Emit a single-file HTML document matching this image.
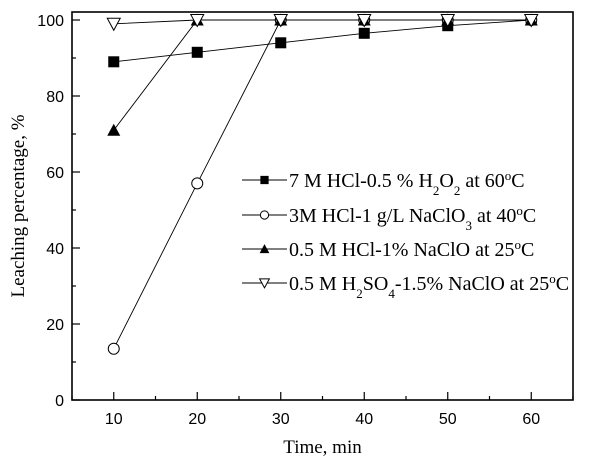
<!DOCTYPE html>
<html><head><meta charset="utf-8"><style>
body{margin:0;background:#fff;}
svg text{font-family:"Liberation Sans",Arial,sans-serif;}
.serif{font-family:"Liberation Serif","Times New Roman",serif;}
</style></head><body>
<svg id="chart" width="614" height="464" viewBox="0 0 614 464" xmlns="http://www.w3.org/2000/svg">
<g id="axes"></g><g id="series"></g><g id="legend"></g>
</svg>
<script>
const times=[10,20,30,40,50,60];
const sHCl7=[89,91.5,94,96.5,98.5,100];
const sHCl3=[13.5,57,100,100,100,100];
const sHCl05=[71,100,100,100,100,100];
const sH2SO4=[99,100,100,100,100,100];
const xTicks=[10,20,30,40,50,60];
const yTicks=[0,20,40,60,80,100];
const NS="http://www.w3.org/2000/svg";
const L=72,R=573,T=12,B=400;
const X=v=>L+(v-5)/60*(R-L);
const Y=v=>B-v/100*380;
function mk(tag,attrs,parent){const e=document.createElementNS(NS,tag);for(const k in attrs)e.setAttribute(k,attrs[k]);parent.appendChild(e);return e;}
const ax=document.getElementById('axes');
const frame=mk('rect',{x:L,y:T,width:R-L,height:B-T,fill:'none',stroke:'#000','stroke-width':1.6},ax);


for(let v=5;v<=65;v+=5){
  const big=v%10===0;
  const t=mk('line',{x1:X(v),x2:X(v),y1:B,y2:B-(big?8:4),stroke:'#000','stroke-width':1.2},ax);
  
  
}
xTicks.forEach(v=>{
  const t=mk('text',{x:X(v),y:B+24,'text-anchor':'middle','font-size':16},ax);t.textContent=v;
  
  
});
for(let v=0;v<=100;v+=10){
  const big=v%20===0;
  const t=mk('line',{x1:L,x2:L+(big?8:4),y1:Y(v),y2:Y(v),stroke:'#000','stroke-width':1.2},ax);
  
  
}
yTicks.forEach(v=>{
  const t=mk('text',{x:L-8,y:Y(v)+6,'text-anchor':'end','font-size':16},ax);t.textContent=v;
  
  
});
const xt=mk('text',{x:(L+R)/2,y:453,'text-anchor':'middle','font-size':19,class:'serif'},ax);xt.textContent='Time, min';


const yt=mk('text',{x:0,y:0,'text-anchor':'middle','font-size':19,class:'serif',transform:`translate(24,${(T+B)/2}) rotate(-90)`},ax);yt.textContent='Leaching percentage, %';



function marker(type,cx,cy,parent,s){
  s=s||1;
  if(type==='sq')return mk('rect',{x:cx-5.5*s,y:cy-5.5*s,width:11*s,height:11*s,fill:'#000'},parent);
  if(type==='ci')return mk('circle',{cx:cx,cy:cy,r:5.5*s,fill:'#fff',stroke:'#000','stroke-width':1},parent);
  if(type==='tu')return mk('polygon',{points:`${cx},${cy-6.5*s} ${cx-6.5*s},${cy+5.5*s} ${cx+6.5*s},${cy+5.5*s}`,fill:'#000'},parent);
  return mk('polygon',{points:`${cx-6.5*s},${cy-5.5*s} ${cx+6.5*s},${cy-5.5*s} ${cx},${cy+6.5*s}`,fill:'#fff',stroke:'#000','stroke-width':1},parent);
}
const series=[
 {vals:sHCl7,m:'sq',name:'series-hcl-7m',label:'7 M HCl-0.5 % H<tspan baseline-shift="sub" font-size="13">2</tspan>O<tspan baseline-shift="sub" font-size="13">2</tspan> at 60<tspan baseline-shift="super" font-size="13">o</tspan>C'},
 {vals:sHCl3,m:'ci',name:'series-hcl-3m',label:'3M HCl-1 g/L NaClO<tspan baseline-shift="sub" font-size="13">3</tspan> at 40<tspan baseline-shift="super" font-size="13">o</tspan>C'},
 {vals:sHCl05,m:'tu',name:'series-hcl-05m',label:'0.5 M HCl-1% NaClO at 25<tspan baseline-shift="super" font-size="13">o</tspan>C'},
 {vals:sH2SO4,m:'td',name:'series-h2so4',label:'0.5 M H<tspan baseline-shift="sub" font-size="13">2</tspan>SO<tspan baseline-shift="sub" font-size="13">4</tspan>-1.5% NaClO at 25<tspan baseline-shift="super" font-size="13">o</tspan>C'}
];
const sg=document.getElementById('series');
series.forEach(s=>{
  const g=mk('g',{},sg);
  
  
  const pl=mk('polyline',{points:times.map((t,i)=>X(t)+','+Y(s.vals[i])).join(' '),fill:'none',stroke:'#000','stroke-width':0.9},g);
  
  
  times.forEach((t,i)=>{
    const m=marker(s.m,X(t),Y(s.vals[i]),g);
    
    
  });
});
const lg=document.getElementById('legend');
const rowsY=[180,215,249,283];
series.forEach((s,i)=>{
  const g=mk('g',{},lg);
  
  
  mk('line',{x1:242,x2:287,y1:rowsY[i],y2:rowsY[i],stroke:'#000','stroke-width':0.9},g);
  marker(s.m,264.5,rowsY[i],g,0.75);
  const t=mk('text',{x:289,y:rowsY[i]+7,'font-size':20,class:'serif'},g);
  t.innerHTML=s.label;
});
</script>
</body></html>
